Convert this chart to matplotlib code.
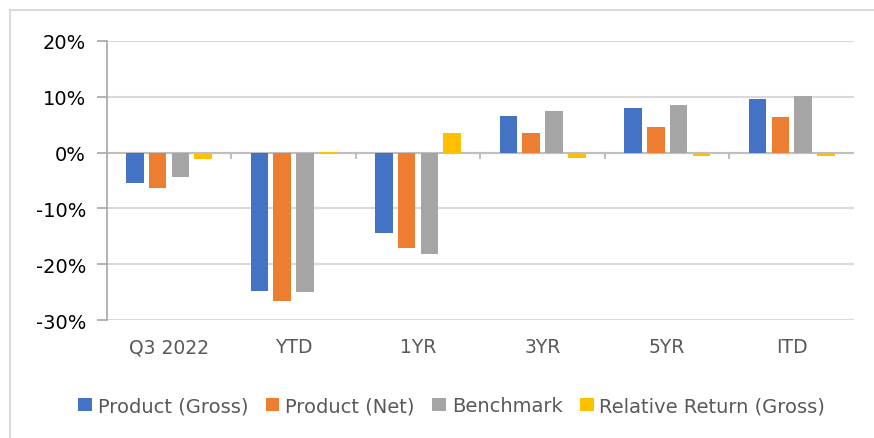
import numpy as np
import matplotlib.pyplot as plt
from matplotlib.lines import Line2D
from matplotlib.ticker import FuncFormatter

plt.rcParams['font.family'] = ['DejaVu Sans']

# ----- Data (percent returns) -----
categories = ["Q3 2022", "YTD", "1YR", "3YR", "5YR", "ITD"]
product_gross = [-5.5, -24.8, -14.3, 6.6, 7.9, 9.5]
product_net = [-6.4, -26.5, -17.0, 3.5, 4.6, 6.4]
benchmark = [-4.3, -24.9, -18.1, 7.5, 8.5, 10.2]
relative_gross = [-1.1, 0.1, 3.5, -0.95, -0.65, -0.65]

series = [
    ("Product (Gross)", product_gross, "#4472C4"),
    ("Product (Net)", product_net, "#ED7D31"),
    ("Benchmark", benchmark, "#A5A5A5"),
    ("Relative Return (Gross)", relative_gross, "#FFC000"),
]

fig = plt.figure(figsize=(8.74, 4.39), dpi=100)
ax = fig.add_axes([0.1221, 0.2680, 0.9771 - 0.1221, 0.9050 - 0.2680])

x = np.arange(len(categories))
width = 0.141
step = 0.183
for i, (name, vals, color) in enumerate(series):
    ax.bar(x + (i - 1.5) * step, vals, width, color=color, label=name, zorder=3)

ax.set_xlim(-0.5, len(categories) - 0.5)
ax.set_ylim(-30, 20)
ax.set_yticks(np.arange(-30, 21, 10))
ax.yaxis.set_major_formatter(FuncFormatter(lambda v, p: f"{v:.0f}%"))
ax.grid(axis='y', color='#d9d9d9', linewidth=1.5, zorder=0)

# zero line with category tick marks
ax.axhline(0, color='#bfbfbf', linewidth=1.5, zorder=2)
for b in np.arange(0.5, len(categories) - 0.5, 1.0):
    ax.plot([b, b], [0, -0.9], color='#bfbfbf', linewidth=1.5, zorder=2, clip_on=False)

ax.set_xticks(x)
ax.set_xticklabels(categories, color='#595959', fontsize=13.5)
ax.tick_params(axis='x', length=0, pad=12)
ax.tick_params(axis='y', length=7, color='#a6a6a6', width=1.2, labelsize=14,
               labelcolor='#000000', pad=8)

for s in ['top', 'right', 'bottom']:
    ax.spines[s].set_visible(False)
ax.spines['left'].set_color('#a6a6a6')
ax.spines['left'].set_linewidth(1.2)

leg = fig.legend(loc='center', bbox_to_anchor=(0.517, 0.073), ncol=4, frameon=False,
                 fontsize=14, handlelength=0.7, handleheight=0.7,
                 handletextpad=0.3, columnspacing=0.9)
for t in leg.get_texts():
    t.set_color('#595959')

# outer chart border (top and left visible)
fig.add_artist(Line2D([10 / 874, 1], [1 - 11 / 439] * 2, color='#d9d9d9', linewidth=1.5))
fig.add_artist(Line2D([10 / 874] * 2, [0, 1 - 11 / 439], color='#d9d9d9', linewidth=1.5))

fig.savefig("out.png", dpi=100)
